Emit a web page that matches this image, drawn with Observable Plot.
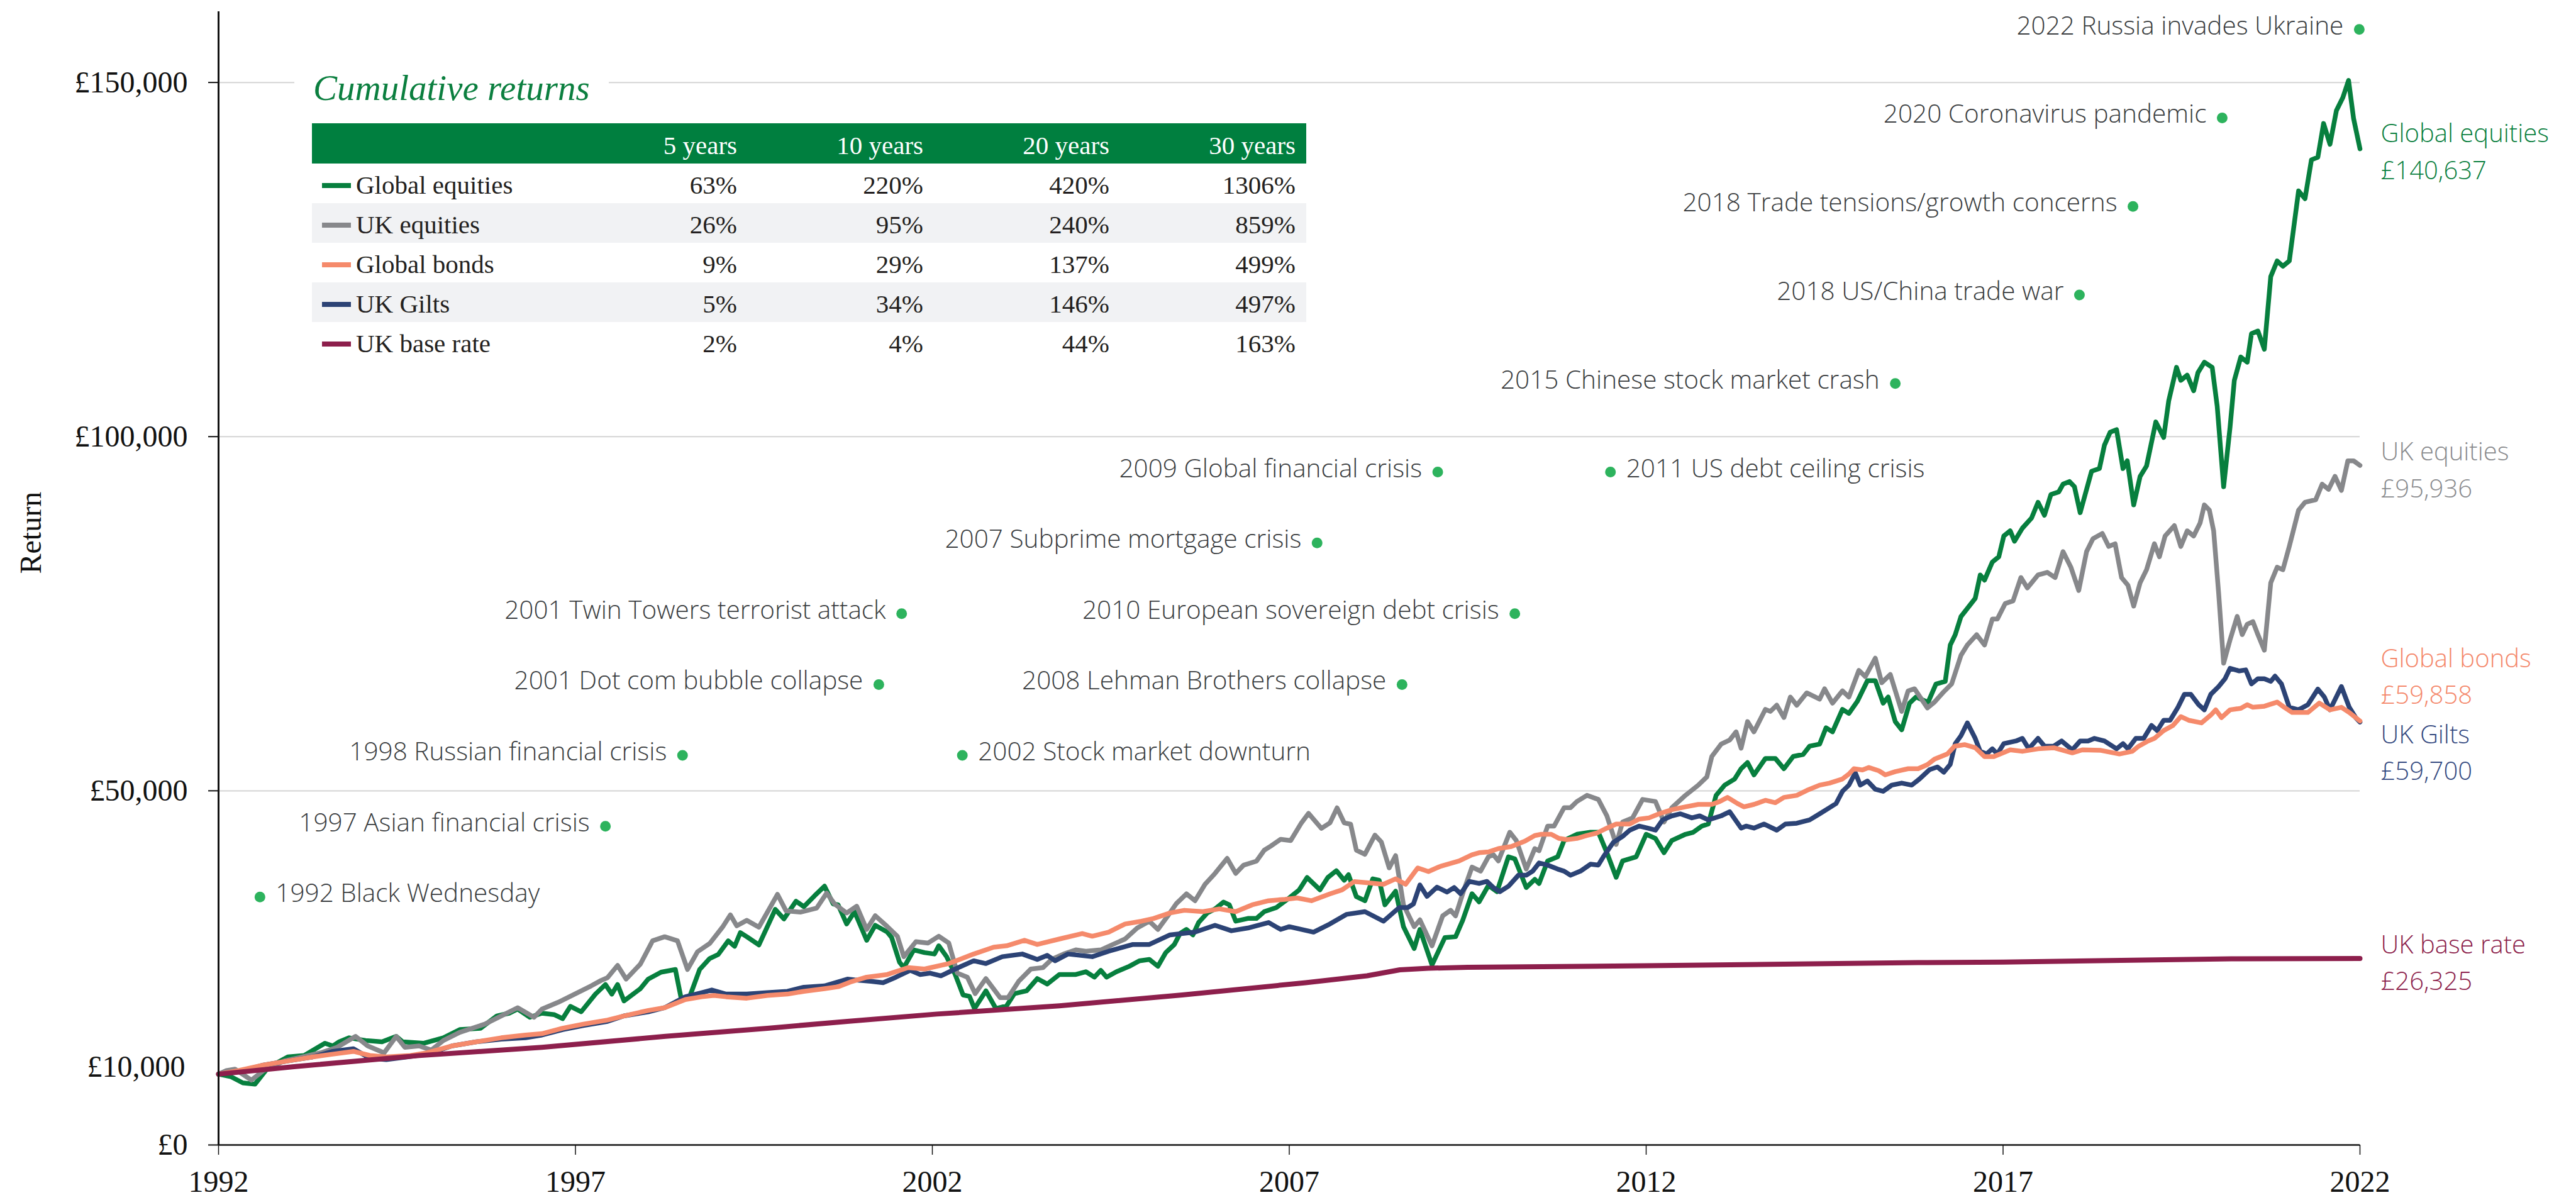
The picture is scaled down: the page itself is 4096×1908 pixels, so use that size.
<!DOCTYPE html>
<html>
<head>
<meta charset="utf-8">
<script src="https://cdn.jsdelivr.net/npm/d3@7"></script>
<script src="https://cdn.jsdelivr.net/npm/@observablehq/plot@0.6"></script>
<style>
html, body { margin: 0; padding: 0; background: #fff; }
#wrap { position: relative; width: 4096px; height: 1908px; overflow: hidden; background: #fff; }
#wrap svg { position: absolute; left: 0; top: 0; }
#title { position: absolute; left: 468px; top: 102px; width: 500px; height: 75px; background: #fff;
  font-family: "Liberation Serif", serif; font-style: italic; font-size: 57px; color: #0b7f3f;
  line-height: 75px; padding-left: 30px; box-sizing: border-box; white-space: nowrap; }
#table { position: absolute; left: 496px; top: 196px; width: 1581px;
  font-family: "Liberation Serif", serif; font-size: 41px; color: #231f20; }
.row { display: grid; grid-template-columns: 380px 296px 296px 296px 296px 17px; height: 63px; line-height: 63px; }
.row.head { background: #007f3f; color: #fff; height: 64px; line-height: 64px; }
.row.alt { background: #f1f2f4; }
.cell { position: relative; top: 3px; text-align: right; white-space: nowrap; }
.lab { text-align: left; display: flex; align-items: center; }
.sw { display: inline-block; width: 46px; height: 8px; margin-left: 16px; margin-right: 8px; }
</style>
</head>
<body>
<div id="wrap"></div>
<script>
// ---------------- data ----------------
const globalEquities = [[1992.00,10000],[1992.17,9660],[1992.34,8770],[1992.51,8580],[1992.69,10890],[1992.97,12430],[1993.20,12630],[1993.49,14360],[1993.60,13980],[1993.69,14560],[1993.83,15130],[1994.06,14750],[1994.29,14560],[1994.49,15330],[1994.58,14560],[1994.87,14360],[1995.15,15130],[1995.38,16290],[1995.67,16480],[1995.90,18220],[1996.07,18600],[1996.19,19180],[1996.36,18030],[1996.53,18600],[1996.70,18410],[1996.82,17830],[1996.93,19570],[1997.08,18800],[1997.28,21300],[1997.42,22650],[1997.51,21300],[1997.59,22650],[1997.68,20340],[1997.91,22070],[1998.02,23420],[1998.20,24390],[1998.40,24770],[1998.48,20720],[1998.60,20920],[1998.74,24770],[1998.88,26320],[1999.00,26890],[1999.14,28820],[1999.23,28050],[1999.31,29980],[1999.40,29400],[1999.57,28240],[1999.80,33260],[1999.92,31910],[2000.09,34410],[2000.20,33640],[2000.35,35180],[2000.49,36530],[2000.61,34030],[2000.68,33900],[2000.80,31200],[2000.91,32940],[2001.08,28890],[2001.20,31010],[2001.37,30050],[2001.43,29280],[2001.54,25810],[2001.60,25040],[2001.74,27540],[2001.89,27160],[2002.03,26960],[2002.09,28120],[2002.20,26580],[2002.32,24070],[2002.43,21180],[2002.52,20990],[2002.59,19250],[2002.75,21760],[2002.89,19250],[2003.04,19640],[2003.15,21370],[2003.32,21760],[2003.47,23490],[2003.61,22720],[2003.78,24070],[2004.01,24070],[2004.15,24460],[2004.27,23690],[2004.36,24650],[2004.44,23690],[2004.58,24460],[2004.76,25230],[2004.90,26000],[2005.04,26190],[2005.16,25230],[2005.27,27160],[2005.39,28310],[2005.47,29860],[2005.56,30430],[2005.65,29660],[2005.73,31400],[2005.85,32750],[2005.96,33330],[2006.08,34290],[2006.16,33900],[2006.25,31590],[2006.42,31980],[2006.54,31980],[2006.65,32940],[2006.82,33520],[2007.00,34870],[2007.14,36020],[2007.25,37760],[2007.43,36020],[2007.54,37760],[2007.66,38720],[2007.77,37370],[2007.83,38150],[2007.94,35060],[2008.06,34480],[2008.17,37570],[2008.26,37370],[2008.34,33900],[2008.49,35830],[2008.60,30820],[2008.75,27740],[2008.83,30430],[2009.00,25420],[2009.18,29280],[2009.33,29400],[2009.43,31720],[2009.56,35470],[2009.66,34320],[2009.79,36630],[2009.91,35760],[2010.07,40680],[2010.16,40390],[2010.32,36340],[2010.44,37500],[2010.50,36920],[2010.62,40100],[2010.76,40680],[2010.85,42990],[2011.03,43860],[2011.22,44150],[2011.33,44150],[2011.45,41260],[2011.58,37790],[2011.67,40100],[2011.86,40680],[2012.00,43860],[2012.13,43280],[2012.25,41260],[2012.36,42990],[2012.55,43860],[2012.66,44150],[2012.78,45020],[2012.87,45310],[2012.98,49360],[2013.10,50800],[2013.24,51670],[2013.33,53120],[2013.42,53980],[2013.51,52250],[2013.67,54560],[2013.81,54560],[2013.93,53120],[2014.06,54850],[2014.20,55140],[2014.29,56300],[2014.43,56590],[2014.52,58900],[2014.61,58320],[2014.75,61500],[2014.84,60920],[2014.96,62660],[2015.10,65550],[2015.21,65550],[2015.32,62370],[2015.39,63240],[2015.49,59770],[2015.58,58610],[2015.69,62370],[2015.78,63240],[2015.95,62500],[2016.06,65080],[2016.19,65440],[2016.26,70570],[2016.33,72040],[2016.41,74600],[2016.61,77170],[2016.68,80470],[2016.74,79740],[2016.85,82300],[2016.94,83040],[2017.01,85970],[2017.10,86700],[2017.16,85230],[2017.27,87070],[2017.40,88530],[2017.49,90730],[2017.58,88900],[2017.67,91830],[2017.78,92200],[2017.84,93290],[2017.93,93660],[2018.00,92930],[2018.08,89260],[2018.24,95120],[2018.35,95490],[2018.42,98790],[2018.50,100620],[2018.59,100990],[2018.68,95490],[2018.74,96590],[2018.83,90360],[2018.92,94390],[2019.01,95860],[2019.14,102080],[2019.25,99890],[2019.32,105020],[2019.43,109780],[2019.49,107950],[2019.58,108680],[2019.67,106480],[2019.73,109040],[2019.82,110510],[2019.93,109780],[2020.00,104280],[2020.09,92930],[2020.18,101350],[2020.24,107950],[2020.33,111240],[2020.42,110510],[2020.48,114540],[2020.57,114910],[2020.66,112340],[2020.75,122600],[2020.84,124800],[2020.92,124060],[2021.01,124800],[2021.14,134690],[2021.23,133590],[2021.32,139080],[2021.41,139450],[2021.49,144210],[2021.58,141280],[2021.67,146040],[2021.76,147870],[2021.84,150290],[2021.91,144940],[2022.00,140637]];

const ukEquities = [[1992.00,10000],[1992.11,10510],[1992.23,10700],[1992.46,9160],[1992.63,10510],[1992.92,11860],[1993.09,12240],[1993.43,13010],[1993.66,13780],[1993.92,15330],[1994.09,13980],[1994.32,13010],[1994.49,15330],[1994.61,13780],[1994.81,13980],[1994.98,13400],[1995.15,14750],[1995.38,15900],[1995.73,17060],[1995.96,18220],[1996.19,19380],[1996.42,18030],[1996.53,19180],[1996.76,20150],[1996.99,21300],[1997.22,22460],[1997.36,23230],[1997.45,23620],[1997.59,25350],[1997.71,23420],[1997.91,25540],[1998.08,28820],[1998.25,29400],[1998.43,28820],[1998.57,24770],[1998.71,27280],[1998.88,28440],[1999.06,30750],[1999.17,32480],[1999.26,30940],[1999.40,31710],[1999.57,30750],[1999.83,35380],[1999.95,33060],[2000.15,32870],[2000.38,33450],[2000.52,35570],[2000.63,34030],[2000.80,32750],[2000.94,33710],[2001.08,30430],[2001.20,32360],[2001.37,30820],[2001.51,29470],[2001.60,26580],[2001.77,28700],[2001.94,28510],[2002.09,29470],[2002.23,28510],[2002.35,24260],[2002.49,23690],[2002.60,21370],[2002.75,23490],[2002.95,20790],[2003.06,20790],[2003.21,23110],[2003.38,24840],[2003.55,25040],[2003.67,26190],[2003.84,26960],[2004.01,27540],[2004.15,27350],[2004.36,27540],[2004.53,28310],[2004.70,29080],[2004.87,30630],[2005.04,31590],[2005.16,30430],[2005.30,32360],[2005.42,34100],[2005.56,35450],[2005.68,34480],[2005.82,36800],[2005.96,38340],[2006.13,40460],[2006.25,38340],[2006.36,39500],[2006.54,40070],[2006.65,41620],[2006.74,42190],[2006.88,43160],[2007.02,42970],[2007.17,45470],[2007.27,46820],[2007.45,44700],[2007.57,45470],[2007.67,47590],[2007.77,45470],[2007.86,45280],[2007.94,41620],[2008.06,41040],[2008.20,43740],[2008.29,42770],[2008.40,39110],[2008.49,40840],[2008.60,33900],[2008.75,30820],[2008.83,31780],[2009.00,28120],[2009.15,32360],[2009.26,33130],[2009.33,32350],[2009.45,36100],[2009.56,39230],[2009.68,38660],[2009.79,40680],[2009.86,40970],[2009.93,40100],[2010.09,44150],[2010.18,42990],[2010.32,38950],[2010.44,41840],[2010.50,41550],[2010.62,45020],[2010.71,45020],[2010.85,47620],[2010.94,47620],[2011.03,48490],[2011.17,49360],[2011.33,48780],[2011.45,46460],[2011.58,42420],[2011.67,45600],[2011.81,46180],[2011.95,48780],[2012.13,48490],[2012.25,45600],[2012.36,47620],[2012.55,49360],[2012.73,50800],[2012.85,51960],[2012.92,54850],[2013.05,56590],[2013.17,57170],[2013.26,58320],[2013.33,56010],[2013.42,59770],[2013.51,58320],[2013.67,61500],[2013.74,61210],[2013.83,62080],[2013.93,60350],[2014.02,63240],[2014.11,62080],[2014.25,63820],[2014.43,62950],[2014.50,64400],[2014.61,62370],[2014.75,64110],[2014.84,63240],[2014.98,67000],[2015.07,66130],[2015.21,68730],[2015.30,65260],[2015.42,66420],[2015.58,61210],[2015.67,64110],[2015.76,64400],[2015.94,61700],[2016.04,62530],[2016.17,63990],[2016.28,65090],[2016.41,69120],[2016.50,70580],[2016.63,72040],[2016.74,70580],[2016.85,74250],[2016.92,74250],[2017.03,76440],[2017.14,76810],[2017.25,80110],[2017.34,78640],[2017.49,80470],[2017.62,80840],[2017.73,80110],[2017.84,83770],[2017.95,81570],[2018.06,78280],[2018.17,83770],[2018.26,85600],[2018.39,86330],[2018.48,84500],[2018.57,84870],[2018.66,80110],[2018.75,79010],[2018.83,76080],[2018.92,79370],[2019.01,81210],[2019.12,84870],[2019.19,83040],[2019.27,85970],[2019.40,87430],[2019.49,84500],[2019.58,86700],[2019.67,85970],[2019.76,87800],[2019.82,90360],[2019.89,89630],[2019.95,86700],[2020.02,77910],[2020.09,68020],[2020.18,71320],[2020.28,74610],[2020.35,72050],[2020.42,73510],[2020.50,73880],[2020.57,72050],[2020.66,69850],[2020.75,79370],[2020.84,81570],[2020.92,81210],[2021.01,84500],[2021.14,89630],[2021.23,90730],[2021.38,91100],[2021.47,93290],[2021.56,92560],[2021.65,94390],[2021.74,92410],[2021.83,96590],[2021.91,96590],[2022.00,95936]];

const globalBonds = [[1992.00,10000],[1992.28,10510],[1992.63,11280],[1992.97,11860],[1993.32,12430],[1993.60,12820],[1993.89,13210],[1994.12,12630],[1994.35,12430],[1994.69,12630],[1994.92,13010],[1995.27,13980],[1995.61,14560],[1995.96,15130],[1996.30,15520],[1996.53,15710],[1996.82,16480],[1997.11,17060],[1997.45,17640],[1997.68,18220],[1998.02,18990],[1998.25,19380],[1998.54,20530],[1998.77,20920],[1998.94,21110],[1999.11,20920],[1999.40,20720],[1999.69,21110],[1999.97,21300],[2000.20,21690],[2000.49,22070],[2000.68,22340],[2000.85,23000],[2001.08,23690],[2001.37,24070],[2001.66,25040],[2001.89,24840],[2002.23,25610],[2002.58,26960],[2002.86,27930],[2003.04,28120],[2003.29,28890],[2003.47,28310],[2003.78,29080],[2004.10,29850],[2004.24,29470],[2004.47,30050],[2004.70,31200],[2004.93,31590],[2005.10,31980],[2005.33,32750],[2005.53,33130],[2005.79,32940],[2006.02,33330],[2006.25,32940],[2006.48,33900],[2006.71,34480],[2006.94,34680],[2007.11,34870],[2007.31,34480],[2007.57,35450],[2007.74,36020],[2007.91,37180],[2008.14,36990],[2008.32,36800],[2008.49,37570],[2008.63,36800],[2008.80,39110],[2008.95,38600],[2009.12,39350],[2009.38,40100],[2009.56,40970],[2009.66,41260],[2009.79,41370],[2009.93,41840],[2010.11,42130],[2010.30,42880],[2010.44,43690],[2010.53,43860],[2010.67,43860],[2010.78,43280],[2010.89,43110],[2011.03,43280],[2011.17,43690],[2011.31,44040],[2011.45,44730],[2011.58,45310],[2011.77,45310],[2011.90,46000],[2012.04,46180],[2012.18,46750],[2012.36,47330],[2012.55,47740],[2012.73,48080],[2012.92,48080],[2013.03,48490],[2013.14,49070],[2013.28,48200],[2013.37,47740],[2013.51,48080],[2013.67,48660],[2013.81,48320],[2013.93,49070],[2014.11,49360],[2014.25,50050],[2014.43,50800],[2014.57,51090],[2014.75,51670],[2014.84,52360],[2014.91,53120],[2015.03,52940],[2015.12,53290],[2015.26,52830],[2015.35,52250],[2015.49,52710],[2015.67,53120],[2015.81,53120],[2015.94,53700],[2016.04,54470],[2016.22,55200],[2016.32,56300],[2016.46,56520],[2016.61,56080],[2016.74,54830],[2016.87,54830],[2017.10,55780],[2017.27,55570],[2017.49,55930],[2017.71,56080],[2017.97,55350],[2018.11,55780],[2018.37,55710],[2018.63,55200],[2018.81,55570],[2018.90,56300],[2019.03,57030],[2019.12,57400],[2019.25,58500],[2019.38,59230],[2019.49,60470],[2019.60,59960],[2019.78,59590],[2019.91,60690],[2019.98,61430],[2020.06,60330],[2020.18,61430],[2020.33,61650],[2020.42,62160],[2020.50,61790],[2020.66,61940],[2020.84,62520],[2020.94,61790],[2021.05,61060],[2021.27,61060],[2021.43,62380],[2021.58,61430],[2021.74,61790],[2021.85,61060],[2022.00,59858]];

const ukGilts = [[1992.00,10000],[1992.28,10310],[1992.63,11280],[1992.97,11860],[1993.32,12430],[1993.60,13210],[1993.89,13590],[1994.12,12240],[1994.35,12050],[1994.64,12430],[1994.92,12820],[1995.27,13980],[1995.61,14560],[1995.96,14940],[1996.30,15130],[1996.53,15520],[1996.82,16290],[1997.11,16870],[1997.45,17450],[1997.68,18220],[1998.02,18800],[1998.25,19380],[1998.54,20920],[1998.77,21500],[1998.91,21880],[1999.11,21300],[1999.40,21300],[1999.69,21500],[1999.97,21690],[2000.20,22270],[2000.49,22460],[2000.81,23420],[2000.91,23300],[2001.14,23110],[2001.31,22910],[2001.49,23690],[2001.69,24650],[2001.83,24070],[2001.97,24260],[2002.12,23880],[2002.32,24840],[2002.58,26000],[2002.75,25610],[2002.98,26580],[2003.26,26960],[2003.47,26190],[2003.61,26770],[2003.72,26000],[2003.90,26960],[2004.24,26580],[2004.47,27350],[2004.81,28310],[2005.04,28310],[2005.33,29660],[2005.68,30050],[2005.96,31010],[2006.19,30240],[2006.42,30630],[2006.71,31400],[2006.88,30430],[2007.00,30820],[2007.34,30050],[2007.57,31200],[2007.80,32550],[2008.06,32940],[2008.32,31590],[2008.54,33520],[2008.66,33520],[2008.74,34030],[2008.83,36700],[2008.93,35100],[2009.07,36400],[2009.21,35700],[2009.31,36340],[2009.40,35470],[2009.52,37210],[2009.66,36920],[2009.77,37210],[2009.86,36340],[2009.95,35760],[2010.07,36520],[2010.21,38080],[2010.32,38080],[2010.41,38660],[2010.50,39810],[2010.62,39520],[2010.76,38950],[2010.85,38660],[2010.94,38080],[2011.08,38660],[2011.22,39640],[2011.33,39520],[2011.40,40680],[2011.54,42710],[2011.67,43570],[2011.77,44440],[2011.90,45020],[2012.02,44730],[2012.13,44440],[2012.23,45890],[2012.36,46460],[2012.48,46750],[2012.64,46180],[2012.75,46460],[2012.87,45890],[2013.05,46460],[2013.17,47040],[2013.33,44730],[2013.40,45020],[2013.51,44730],[2013.65,45310],[2013.83,44440],[2013.95,45310],[2014.11,45420],[2014.29,45890],[2014.43,46750],[2014.57,47620],[2014.66,48200],[2014.75,49930],[2014.84,50800],[2014.93,52540],[2015.00,50800],[2015.10,51380],[2015.21,50220],[2015.32,49930],[2015.44,50800],[2015.58,51090],[2015.72,50800],[2015.83,51670],[2015.97,52990],[2016.08,53360],[2016.17,52630],[2016.26,53730],[2016.33,56660],[2016.41,57770],[2016.50,59590],[2016.61,57400],[2016.68,55570],[2016.77,55200],[2016.85,55930],[2016.92,55200],[2017.01,56660],[2017.18,57030],[2017.27,57400],[2017.36,55930],[2017.49,57400],[2017.58,56300],[2017.71,56300],[2017.82,57030],[2017.97,55780],[2018.08,57030],[2018.19,57030],[2018.28,57400],[2018.42,57030],[2018.59,55930],[2018.68,56660],[2018.75,55930],[2018.86,57400],[2018.97,57400],[2019.08,59230],[2019.16,58500],[2019.25,59960],[2019.34,59960],[2019.45,61790],[2019.54,63620],[2019.63,63620],[2019.74,62160],[2019.82,61430],[2019.91,63620],[2020.02,64720],[2020.11,65820],[2020.18,67290],[2020.31,66920],[2020.40,67070],[2020.48,65090],[2020.57,65820],[2020.66,65820],[2020.75,65450],[2020.81,66190],[2020.90,65090],[2021.01,61790],[2021.14,61430],[2021.27,62160],[2021.41,64360],[2021.50,63260],[2021.58,61430],[2021.74,64720],[2021.85,61790],[2021.94,60330],[2022.00,59700]];

const ukBaseRate = [[1992.00,10000],[1993.08,11080],[1994.81,12620],[1996.53,13790],[1998.26,15330],[1999.69,16480],[2000.81,17450],[2002.06,18480],[2003.78,19640],[2005.50,21180],[2007.23,22910],[2008.09,23880],[2008.55,24730],[2008.95,24950],[2009.50,25080],[2012.00,25310],[2015.94,25760],[2017.00,25810],[2020.20,26280],[2022.00,26325]];

const seriesNames = ["Global equities", "UK equities", "Global bonds", "UK Gilts", "UK base rate"];
const seriesColors = ["#077f3e", "#87888b", "#f58a6b", "#2c4375", "#8d1f4c"];
const labelColors = ["#0b7f3f", "#8a8b8e", "#f4876a", "#34497f", "#8d1f4c"];
const finalValues = [140637, 95936, 59858, 59700, 26325];
const endLabelY = [140600, 95700, 66500, 55800, 26100];

const eventLabels = ["2022 Russia invades Ukraine", "2020 Coronavirus pandemic", "2018 Trade tensions/growth concerns", "2018 US/China trade war", "2015 Chinese stock market crash", "2009 Global financial crisis", "2011 US debt ceiling crisis", "2007 Subprime mortgage crisis", "2001 Twin Towers terrorist attack", "2010 European sovereign debt crisis", "2001 Dot com bubble collapse", "2008 Lehman Brothers collapse", "1998 Russian financial crisis", "2002 Stock market downturn", "1997 Asian financial crisis", "1992 Black Wednesday"];
const eventYears = [2021.99, 2020.07, 2018.82, 2018.07, 2015.49, 2009.08, 2011.50, 2007.39, 2001.57, 2010.16, 2001.25, 2008.58, 1998.50, 2002.42, 1997.42, 1992.58];
const eventValues = [157500, 145000, 132500, 120000, 107500, 95000, 95000, 85000, 75000, 75000, 65000, 65000, 55000, 55000, 45000, 35000];
const eventSides = ["left", "left", "left", "left", "left", "left", "right", "left", "left", "left", "left", "left", "left", "right", "left", "right"];

const xTicks = [1992, 1997, 2002, 2007, 2012, 2017, 2022];
const yTicks = [0, 50000, 100000, 150000];
const yTickExtra = [10000];
const gridValues = [50000, 100000, 150000];

const periods = ["5 years", "10 years", "20 years", "30 years"];
const return5 = [63, 26, 9, 5, 2];
const return10 = [220, 95, 29, 34, 4];
const return20 = [420, 240, 137, 146, 44];
const return30 = [1306, 859, 499, 497, 163];

// ---------------- chart ----------------
const money = d => "£" + d3.format(",")(d);
const toRows = arr => arr.map(([year, value]) => ({year, value}));
const allSeries = [globalEquities, ukEquities, globalBonds, ukGilts, ukBaseRate];
const drawOrder = [0, 1, 3, 2, 4];

const events = eventLabels.map((label, i) => ({label, year: eventYears[i], value: eventValues[i], side: eventSides[i]}));
const endRows = seriesNames.map((name, i) => ({year: 2022, y: endLabelY[i], text: name + "\n" + money(finalValues[i]), color: labelColors[i]}));

const annFont = {fontFamily: "'Open Sans', sans-serif", fontWeight: 300, fontSize: 40.5, fill: "#3a3d40"};

const chart = Plot.plot({
  width: 4096,
  height: 1908,
  marginLeft: 347,
  marginRight: 344,
  marginTop: 18,
  marginBottom: 88,
  style: {fontFamily: "'Liberation Serif', serif", fontSize: "48px", color: "#111", background: "transparent"},
  x: {domain: [1992, 2022]},
  y: {domain: [0, 160000]},
  color: {type: "identity"},
  marks: [
    Plot.ruleY(gridValues, {stroke: "#d4d4d4", strokeWidth: 2}),
    ...drawOrder.map(i => Plot.line(toRows(allSeries[i]), {
      x: "year", y: "value", stroke: seriesColors[i], strokeWidth: i === 4 ? 8 : 7.5,
      strokeLinejoin: "round", strokeLinecap: "round"
    })),
    Plot.ruleX([1992], {stroke: "#111", strokeWidth: 3}),
    Plot.ruleY([0], {stroke: "#111", strokeWidth: 2.5}),
    Plot.axisX({ticks: xTicks, tickFormat: d => String(d), tickSize: 16, tickPadding: 24, fontSize: 48, label: null, strokeWidth: 1.5}),
    Plot.axisY({ticks: yTicks, tickFormat: money, tickSize: 16, tickPadding: 33, fontSize: 48, label: null, strokeWidth: 2}),
    Plot.axisY({ticks: yTickExtra, tickFormat: money, tickSize: 0, tickPadding: 53, fontSize: 48, label: null, dy: -11}),
    Plot.text(["Return"], {frameAnchor: "left", rotate: -90, dx: -298, dy: -7, fontSize: 48, fill: "#111"}),
    Plot.dot(events, {x: "year", y: "value", r: 8.5, fill: "#2db35d"}),
    Plot.text(events.filter(d => d.side === "left"), {x: "year", y: "value", text: "label", textAnchor: "end", dx: -25, dy: -5, ...annFont}),
    Plot.text(events.filter(d => d.side === "right"), {x: "year", y: "value", text: "label", textAnchor: "start", dx: 25, dy: -5, ...annFont}),
    Plot.text(endRows, {x: "year", y: "y", text: "text", fill: "color", textAnchor: "start", dx: 33, lineHeight: 1.46,
      fontFamily: "'Open Sans', sans-serif", fontWeight: 300, fontSize: 40})
  ]
});

const wrap = document.getElementById("wrap");
wrap.appendChild(chart);

// ---------------- title + table ----------------
const title = document.createElement("div");
title.id = "title";
title.textContent = "Cumulative returns";
wrap.appendChild(title);

const table = document.createElement("div");
table.id = "table";
const head = document.createElement("div");
head.className = "row head";
head.innerHTML = "<div></div>" + periods.map(p => `<div class="cell">${p}</div>`).join("") + "<div></div>";
table.appendChild(head);
seriesNames.forEach((name, i) => {
  const r = document.createElement("div");
  r.className = "row" + (i % 2 === 1 ? " alt" : "");
  const vals = [return5[i], return10[i], return20[i], return30[i]];
  r.innerHTML = `<div class="cell lab"><span class="sw" style="background:${seriesColors[i]}"></span>${name}</div>` +
    vals.map(v => `<div class="cell">${v}%</div>`).join("") + "<div></div>";
  table.appendChild(r);
});
wrap.appendChild(table);
</script>
</body>
</html>
